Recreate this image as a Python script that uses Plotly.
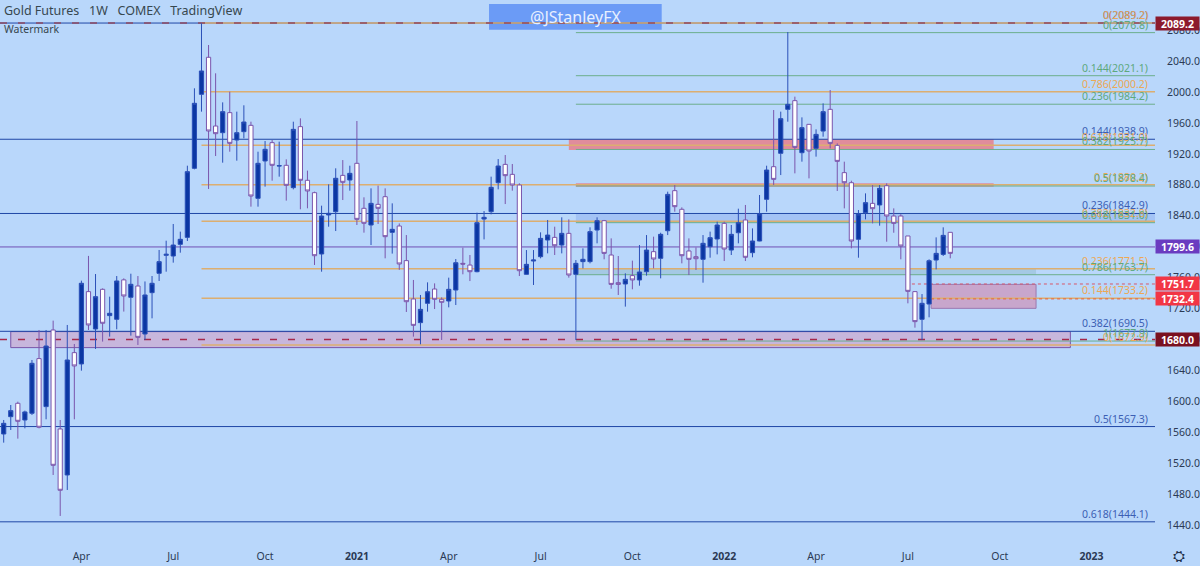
import pandas as pd
import plotly.graph_objects as go

# weekly bars, first one is the week of 13 Jan 2020
dates = pd.date_range("2020-01-13", periods=135, freq="7D")

opens = [1557.7,1580.1,1597.4,1575.8,1584.5,1655.2,1593.1,1692.2,1564.2,1504.7,1662.9,1648.3,1741.8,1693.5,1744.8,1710.8,1706.0,1757.0,1734.5,1749.1,
         1687.0,1740.5,1765.5,1788.8,1787.9,1803.0,1812.0,1901.3,1997.0,2044.9,1956.0,1947.4,1973.3,1937.9,1948.7,1956.9,1862.5,1910.8,1934.5,1904.3,
         1905.2,1876.3,1955.2,1885.8,1869.8,1790.5,1841.0,1845.2,1892.2,1886.2,1907.8,1849.6,1828.0,1854.7,1864.6,1818.5,1826.7,1781.9,1732.3,1701.7,
         1726.7,1745.2,1731.9,1729.7,1743.9,1778.4,1776.2,1767.6,1835.7,1845.2,1882.7,1906.4,1893.5,1879.7,1764.2,1781.4,1787.0,1808.6,1812.0,1802.1,
         1817.2,1764.2,1780.6,1780.6,1821.5,1833.6,1789.2,1753.4,1751.7,1762.5,1756.9,1767.6,1793.5,1784.9,1820.6,1872.4,1848.3,1794.4,1787.0,1783.6,
         1799.9,1809.9,1830.1,1795.6,1818.0,1834.5,1792.2,1807.3,1861.2,1903.4,1920.7,1977.6,1988.8,1921.5,1958.2,1927.1,1949.5,1977.6,1931.0,1895.7,
         1882.7,1809.5,1843.9,1856.0,1853.9,1878.8,1839.6,1839.6,1813.8,1741.8,1706.0,1725.8,1782.7,1790.0,1818.5]
highs = [1575.8,1595.2,1599.5,1587.9,1653.4,1692.2,1692.2,1704.3,1575.8,1698.7,1674.1,1756.0,1788.0,1764.6,1746.0,1735.3,1762.0,1759.0,1765.0,1762.0,
         1755.0,1762.0,1795.7,1807.7,1829.3,1819.4,1904.7,2004.8,2088.8,2060.8,2024.2,1986.6,2000.4,1974.6,1982.8,1961.6,1922.8,1936.6,1937.9,1935.8,
         1912.9,1961.6,1965.9,1898.3,1871.1,1853.0,1880.6,1901.3,1912.0,1904.7,1962.5,1863.8,1875.4,1878.9,1875.4,1856.0,1830.0,1815.0,1756.9,1737.5,
         1753.8,1752.5,1734.4,1759.9,1784.0,1798.7,1789.2,1843.9,1846.0,1890.5,1913.3,1918.5,1906.9,1881.9,1795.6,1795.6,1818.5,1834.5,1825.8,1837.9,
         1835.3,1782.7,1797.8,1825.0,1837.9,1834.5,1810.7,1787.9,1765.5,1781.9,1802.1,1815.0,1812.9,1818.0,1871.1,1879.7,1850.8,1810.7,1799.0,1815.0,
         1819.4,1832.3,1832.3,1828.0,1849.1,1853.9,1823.6,1866.8,1904.7,1976.7,1974.6,2077.6,1994.0,1967.2,1958.6,1951.7,1985.3,2002.6,1933.6,1909.9,
         1885.3,1847.4,1868.9,1879.7,1879.7,1881.9,1849.5,1842.0,1813.8,1742.6,1738.7,1783.6,1812.0,1825.0,1818.5]
lows = [1546.5,1562.9,1551.7,1565.0,1582.3,1565.0,1576.7,1504.7,1451.7,1485.3,1576.7,1639.6,1692.2,1667.7,1677.2,1683.6,1693.1,1716.0,1684.9,1672.8,
        1679.3,1707.3,1755.6,1767.6,1779.3,1792.2,1807.3,1900.0,1974.6,1874.6,1917.2,1908.6,1922.8,1911.2,1940.1,1851.7,1851.7,1877.6,1885.3,1890.5,
        1859.5,1874.1,1848.3,1849.6,1776.3,1767.6,1825.8,1820.2,1860.3,1872.4,1828.0,1818.1,1802.1,1829.3,1784.9,1791.0,1770.0,1715.5,1683.6,1673.7,
        1715.9,1719.3,1679.3,1721.5,1724.5,1764.2,1755.5,1766.8,1809.4,1841.8,1874.1,1855.1,1872.4,1762.0,1764.0,1750.4,1784.9,1791.3,1789.2,1791.3,
        1759.9,1679.3,1771.9,1778.4,1804.3,1783.6,1745.6,1737.5,1722.4,1744.8,1749.5,1762.5,1771.9,1759.0,1815.0,1845.2,1778.4,1763.3,1769.8,1753.4,
        1785.7,1790.0,1781.4,1789.2,1804.3,1781.4,1786.2,1807.0,1845.2,1879.7,1892.6,1961.6,1894.8,1909.9,1888.3,1916.4,1942.2,1927.1,1872.0,1849.5,
        1797.8,1785.7,1835.3,1830.1,1827.1,1806.4,1818.0,1783.6,1726.7,1695.2,1679.2,1708.6,1770.6,1787.9,1784.9]
closes = [1571.5,1587.9,1574.1,1586.2,1649.1,1566.4,1671.5,1517.2,1484.9,1653.4,1645.7,1752.6,1698.7,1735.3,1700.9,1713.8,1755.6,1736.2,1751.3,1682.7,
          1737.5,1752.6,1780.6,1790.1,1802.1,1809.5,1897.0,1985.4,2027.2,1949.6,1946.1,1974.6,1933.6,1947.4,1961.2,1865.5,1907.8,1925.9,1905.2,1904.7,
          1879.3,1951.7,1885.8,1872.0,1788.3,1839.6,1843.1,1888.4,1883.2,1894.8,1835.3,1830.2,1856.0,1849.6,1812.9,1822.4,1777.6,1728.8,1698.2,1718.9,
          1741.7,1731.9,1728.0,1744.8,1779.2,1777.5,1767.6,1831.0,1837.9,1876.7,1904.3,1891.8,1879.7,1768.9,1777.1,1782.7,1810.7,1815.0,1801.2,1817.2,
          1763.3,1778.4,1783.6,1819.4,1833.6,1791.3,1751.2,1751.2,1757.7,1756.9,1767.2,1795.6,1784.0,1815.9,1867.6,1851.7,1788.3,1783.6,1784.4,1804.3,
          1811.6,1828.0,1796.9,1815.9,1831.0,1786.2,1807.3,1842.2,1899.1,1887.0,1965.5,1984.0,1928.4,1953.9,1923.7,1945.2,1974.6,1933.6,1910.3,1882.7,
          1807.3,1842.2,1856.9,1849.1,1875.4,1839.6,1830.1,1800.8,1742.2,1703.0,1726.7,1781.8,1791.3,1814.6,1791.3]

# fib sets: (ratio, level)
blue_ratios = ["0", "0.144", "0.236", "0.382", "0.5", "0.618"]
blue_levels = [2089.2, 1938.9, 1842.9, 1690.5, 1567.3, 1444.1]
orange_ratios = ["0", "0.786", "0.618", "0.5", "0.382", "0.236", "0.144", "0"]
orange_levels = [2089.2, 2000.2, 1931.0, 1880.2, 1832.8, 1771.5, 1733.2, 1672.9]
green_ratios = ["0", "0.144", "0.236", "0.382", "0.5", "0.618", "0.786", "1"]
green_levels = [2076.8, 2021.1, 1984.2, 1925.7, 1878.4, 1831.0, 1763.7, 1677.9]

left_edge = "2020-01-09 08:00"
right_edge = "2023-02-26 21:00"
label_date = "2023-02-22"
orange_start = "2020-07-27"
green_start = "2021-08-02"

# zones: start, end, low, high, fill, border
zone_starts = ["2020-01-20", "2021-07-26", "2021-08-02", "2021-08-02", "2021-08-02", "2022-07-20"]
zone_ends = ["2022-12-05", "2022-09-20", "2022-09-20", right_edge, "2022-11-01", "2022-11-01"]
zone_lows = [1669.4, 1925.0, 1877.6, 1831.0, 1763.7, 1720.2]
zone_highs = [1690.1, 1938.8, 1881.9, 1842.9, 1771.5, 1751.2]
zone_fills = ["#c7b6dc", "#e08c9c", "#e08c9c", "#a3c3f5", "#a4c9e4", "#c8a6cc"]
zone_borders = ["#7a55a8", "rgba(0,0,0,0)", "rgba(0,0,0,0)", "rgba(0,0,0,0)", "rgba(0,0,0,0)", "#9a78b0"]

tick_dates = ["2020-03-30", "2020-06-29", "2020-09-28", "2020-12-28", "2021-03-29", "2021-06-28",
              "2021-09-27", "2021-12-27", "2022-03-28", "2022-06-27", "2022-09-26", "2022-12-26"]
tick_names = ["Apr", "Jul", "Oct", "<b>2021</b>", "Apr", "Jul", "Oct", "<b>2022</b>", "Apr", "Jul", "Oct", "<b>2023</b>"]
price_ticks = list(range(1440, 2121, 40))

tag_prices = [2089.2, 1799.6, 1751.7, 1732.4, 1680.0]
tag_colors = ["#8c1a2c", "#6a3cc0", "#f23645", "#f23645", "#7a1020"]

BG = "#b9d7fb"
FONT = "Noto Sans"
BLUE = "#1f47a6"
PURPLE = "#7050b4"
ORANGE = "#dcae70"
GREEN = "#6cae8c"

fig = go.Figure()

fig.add_trace(go.Candlestick(
    x=dates, open=opens, high=highs, low=lows, close=closes,
    increasing=dict(line=dict(color="#2b50b8", width=1), fillcolor="#0b37a3"),
    decreasing=dict(line=dict(color="#7a55ac", width=1), fillcolor="#ffffff"),
    hoverinfo="skip",
))

for x0, x1, lo, hi, fill, border in zip(zone_starts, zone_ends, zone_lows, zone_highs, zone_fills, zone_borders):
    fig.add_shape(type="rect", x0=x0, x1=x1, y0=lo, y1=hi, fillcolor=fill,
                  line=dict(color=border, width=1), layer="below")

def level_line(x0, level, color, width=1, dash="solid"):
    fig.add_shape(type="line", x0=x0, x1=right_edge, y0=level, y1=level,
                  line=dict(color=color, width=width, dash=dash), layer="below")

def level_label(ratio, level, color):
    fig.add_annotation(x=label_date, y=level, text=f"{ratio}({level})", showarrow=False,
                       xanchor="right", yanchor="bottom", yshift=-1,
                       font=dict(family=FONT, size=10.5, color=color))

for level in blue_levels:
    level_line(left_edge, level, BLUE)
level_line(left_edge, 1799.6, PURPLE)
for level in orange_levels:
    level_line(orange_start, level, ORANGE, width=1.5)
for level in green_levels:
    level_line(green_start, level, GREEN)

# watermark box, the dashes run over it
fig.add_shape(type="rect", x0=0.4234, x1=0.5729, y0=0.9453, y1=0.9926, xref="paper", yref="paper",
              fillcolor="#6b9bf6", line=dict(width=0), layer="below")

level_line(left_edge, 2089.2, "#8e4a62", width=1.5, dash="7px,11px")
level_line(left_edge, 1680.0, "#a5284a", width=1.5, dash="7px,11px")
level_line("2022-07-01", 1751.7, "#d8586a", dash="dot")
level_line("2022-07-20", 1732.4, "#e8603c", dash="dot")

for ratio, level in zip(blue_ratios, blue_levels):
    level_label(ratio, level, "#3c5fb4")
for ratio, level in zip(orange_ratios, orange_levels):
    level_label(ratio, level, "#eda854")
for ratio, level in zip(green_ratios, green_levels):
    level_label(ratio, level, "#5ea97e")

for price, color in zip(tag_prices, tag_colors):
    fig.add_annotation(x=1, xref="paper", xanchor="left", y=price, text=f"<b>{price:.1f}</b>", showarrow=False,
                       bgcolor=color, width=43, height=13, borderpad=0, align="center",
                       font=dict(family=FONT, size=10.5, color="#ffffff"))

fig.add_annotation(x=0.498, xref="paper", xanchor="center", y=0.9689, yref="paper", yanchor="middle",
                   text="@JStanleyFX", showarrow=False,
                   font=dict(family=FONT, size=16, color="#e8f0ff"))
fig.add_annotation(x=0.002, xref="paper", xanchor="left", y=1, yref="paper", yanchor="middle", yshift=-10,
                   text="Gold Futures   1W   COMEX   TradingView", showarrow=False,
                   font=dict(family=FONT, size=12.5, color="#37474f"))
fig.add_annotation(x=0.002, xref="paper", xanchor="left", y=0.9465, yref="paper", yanchor="middle",
                   text="Watermark", showarrow=False,
                   font=dict(family=FONT, size=10.5, color="#37474f"))
fig.add_annotation(x=1.0207, xref="paper", xanchor="center", y=-0.0258, yref="paper", yanchor="middle",
                   text="⛭", showarrow=False,
                   font=dict(family="DejaVu Sans", size=15, color="#22304a"))

fig.update_layout(
    width=1200, height=566,
    margin=dict(l=0, r=45, t=0, b=24),
    paper_bgcolor=BG, plot_bgcolor=BG,
    showlegend=False,
    boxgap=0.15,
    font=dict(family=FONT, size=10.5, color="#2b3a55"),
    xaxis=dict(range=[left_edge, right_edge], rangeslider=dict(visible=False), tickmode="array",
               tickvals=tick_dates, ticktext=tick_names, showgrid=False, zeroline=False,
               ticks="outside", ticklen=4, tickcolor="rgba(0,0,0,0)"),
    yaxis=dict(range=[1418, 2119], side="right", tickmode="array", tickvals=price_ticks,
               tickformat=".1f", showgrid=False, zeroline=False,
               ticks="outside", ticklen=9, tickcolor="rgba(0,0,0,0)"),
)

# drop the page's default margin so the plot fills the window
fig.write_html("out.html", post_script="document.body.style.margin='0';", config=dict(displayModeBar=False))
